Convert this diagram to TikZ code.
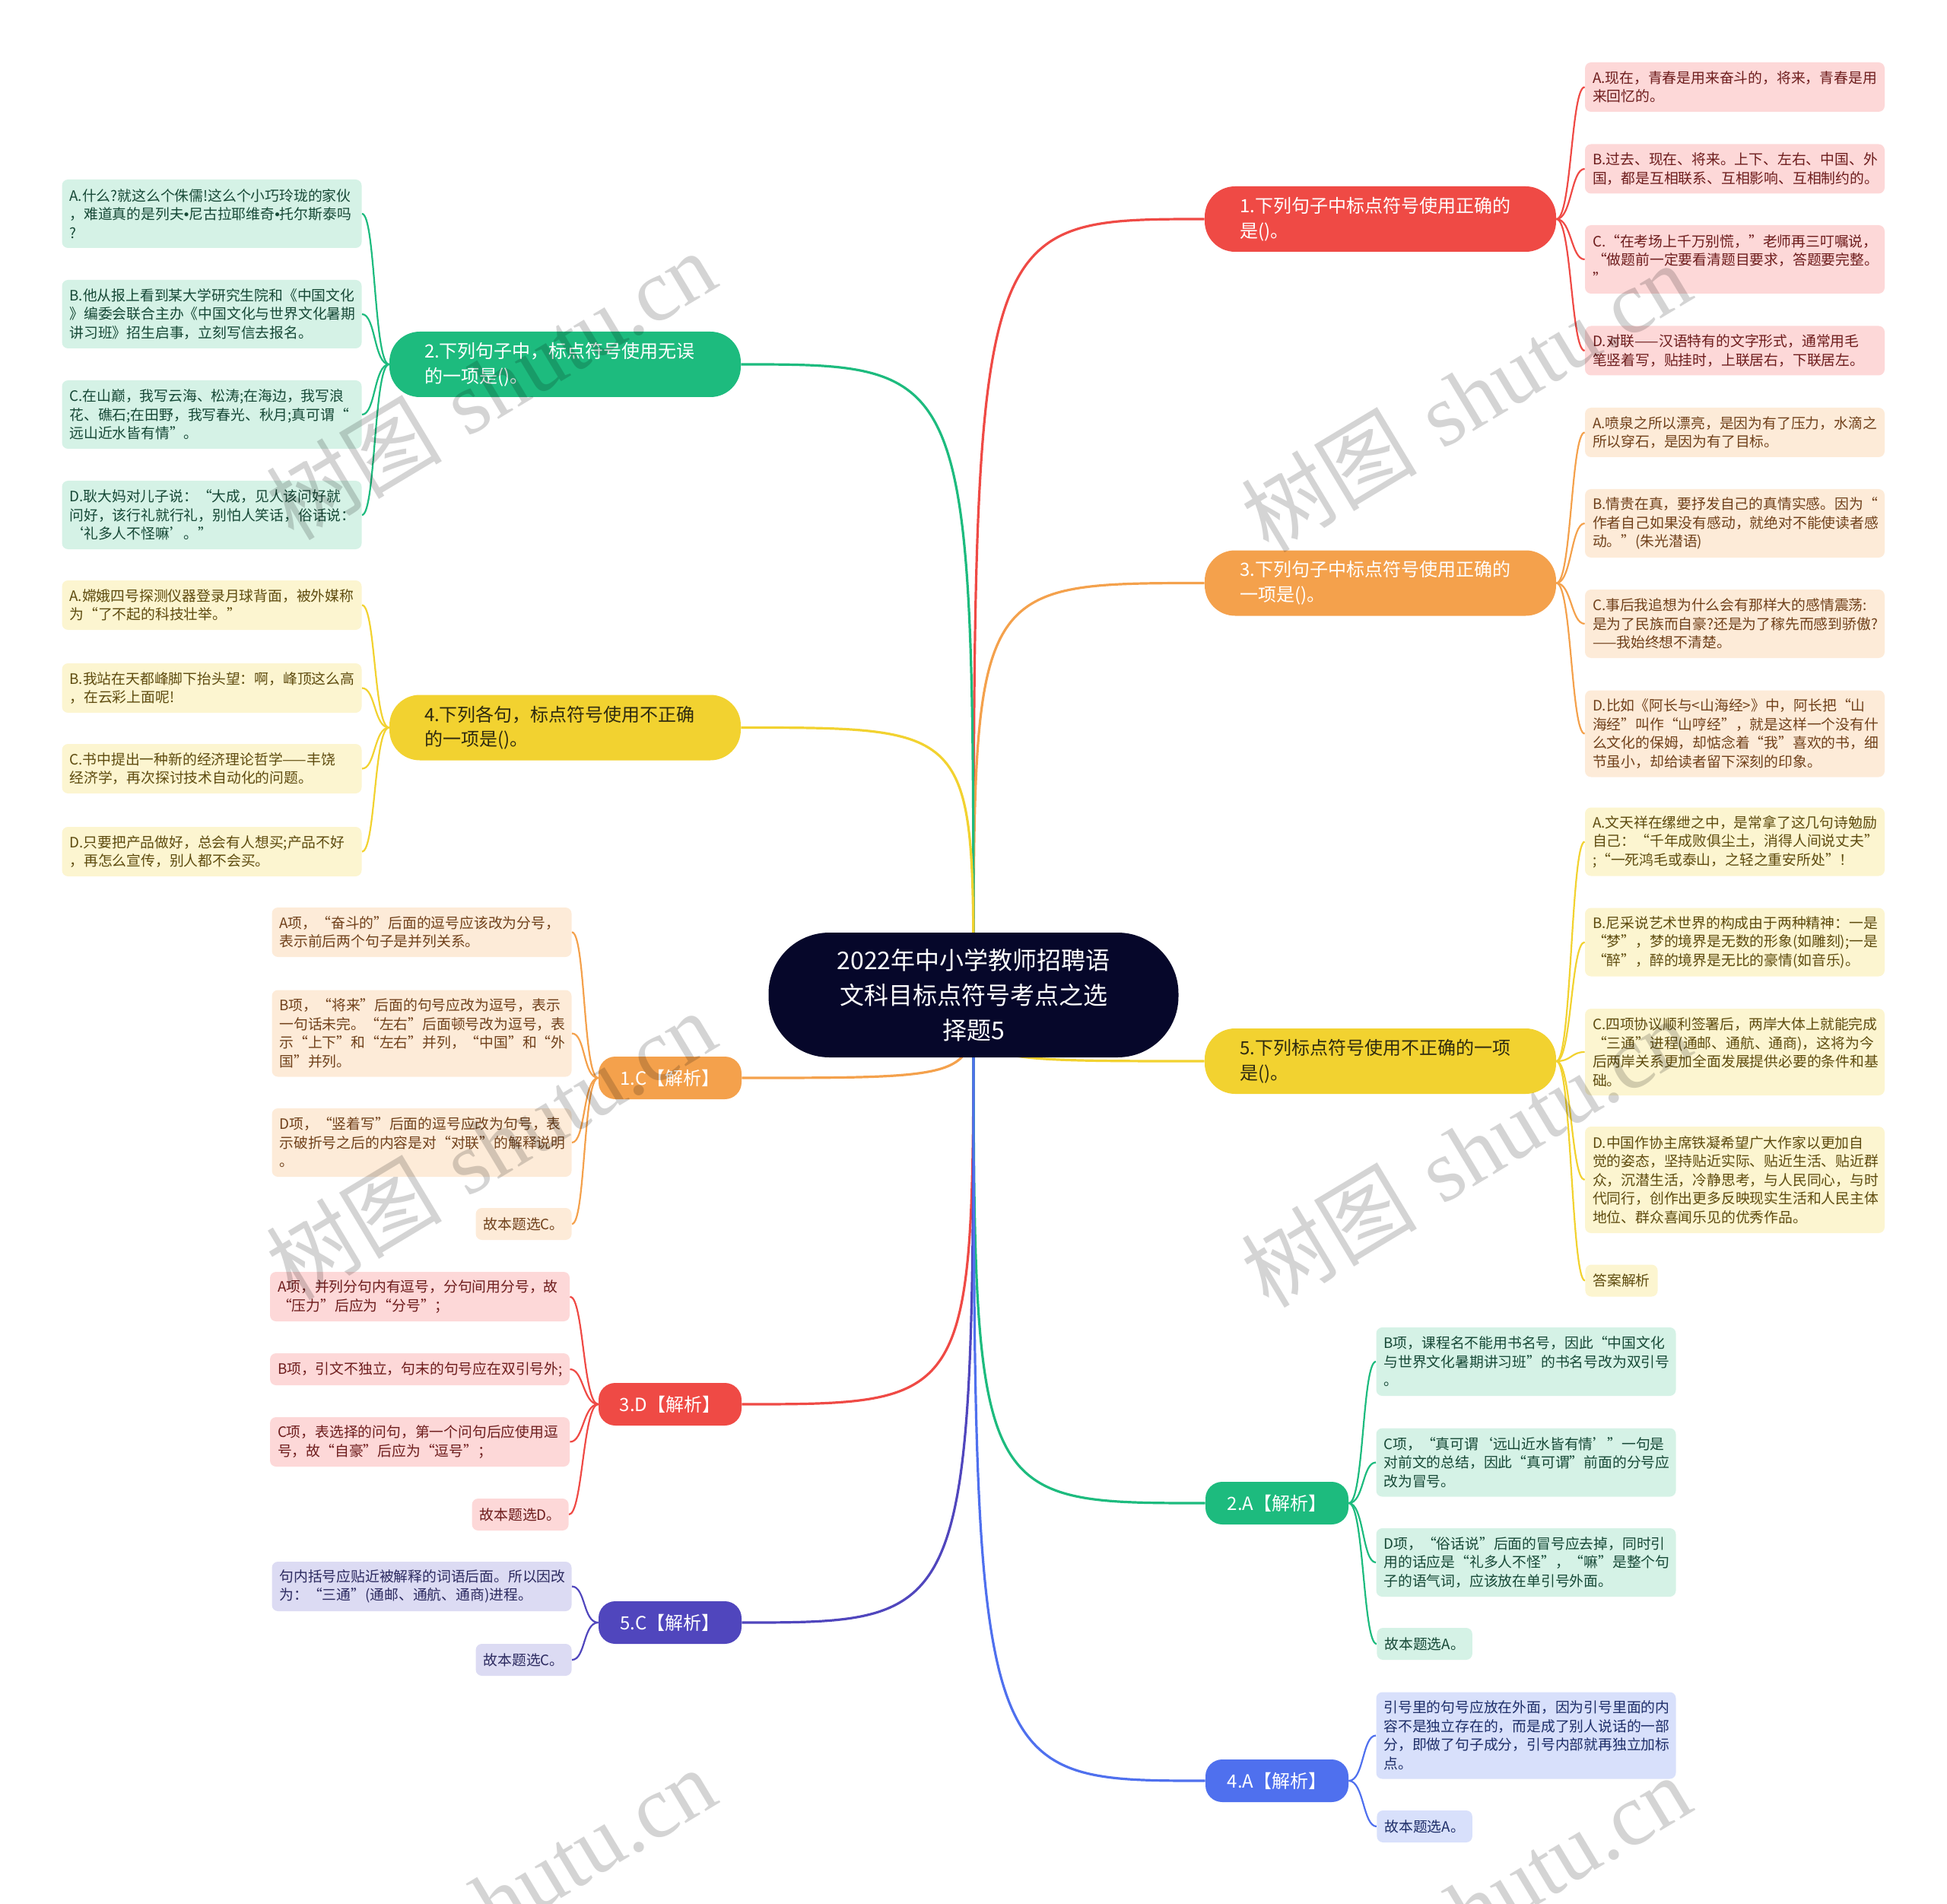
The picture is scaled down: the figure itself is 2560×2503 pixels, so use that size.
\documentclass[tikz,border=0pt]{standalone}
\usepackage{fontspec}
\setmainfont{Noto Sans CJK SC}
\newfontfamily\wmlatin{Liberation Serif}
\newfontfamily\latinsans{Liberation Sans}
\usetikzlibrary{calc}
\pgfdeclarelayer{bg}
\pgfsetlayers{bg,main}
\definecolor{CRed}{HTML}{EF4A45}
\definecolor{COra}{HTML}{F4A14C}
\definecolor{CYel}{HTML}{F2D230}
\definecolor{CGre}{HTML}{1DBB7E}
\definecolor{CBlu}{HTML}{4F70EE}
\definecolor{CPur}{HTML}{5046BD}
\definecolor{CRoot}{HTML}{06072A}
\definecolor{LRed}{HTML}{FDD8D8}\definecolor{TRed}{HTML}{6D1C1C}
\definecolor{LOra}{HTML}{FDEBD8}\definecolor{TOra}{HTML}{70401A}
\definecolor{LYel}{HTML}{FCF5D0}\definecolor{TYel}{HTML}{5E4B0E}
\definecolor{LGre}{HTML}{D5F2E6}\definecolor{TGre}{HTML}{164836}
\definecolor{LPur}{HTML}{DCDBF3}\definecolor{TPur}{HTML}{2C2A60}
\definecolor{LBlu}{HTML}{D8E0FB}\definecolor{TBlu}{HTML}{1D2D68}
\definecolor{TDark}{HTML}{2E2A10}
\tikzset{
  leaf/.style={rounded corners=4pt, text width=187pt, align=left, inner xsep=5pt, inner ysep=2pt,
    font=\fontsize{9.4pt}{12.25pt}\selectfont},
  sleaf/.style={rounded corners=4pt, align=left, inner xsep=5pt, inner ysep=2pt, minimum height=21pt,
    font=\fontsize{9.4pt}{12.25pt}\selectfont},
  ln1/.style={minimum height=21pt},
  ln2/.style={minimum height=32.5pt},
  ln3/.style={minimum height=45pt},
  ln4/.style={minimum height=57pt},
  ln5/.style={minimum height=70pt},
  lred/.style={fill=LRed, text=TRed},
  lora/.style={fill=LOra, text=TOra},
  lyel/.style={fill=LYel, text=TYel},
  lgre/.style={fill=LGre, text=TGre},
  lpur/.style={fill=LPur, text=TPur},
  lblu/.style={fill=LBlu, text=TBlu},
  mnode/.style={rounded corners=20pt, text width=185pt, align=left, inner xsep=23pt, inner ysep=2pt,
    minimum height=43pt, font=\fontsize{12pt}{16.3pt}\selectfont},
  snode/.style={rounded corners=11pt, minimum width=94pt, minimum height=28pt, align=center, inner sep=2pt,
    font=\fontsize{12pt}{16.3pt}\selectfont},
  rootnode/.style={rounded corners=40pt, minimum width=269.5pt, minimum height=82pt, align=center,
    fill=CRoot, text=white, inner sep=2pt, font=\fontsize{16pt}{23pt}\selectfont},
  mline/.style={line width=1.6pt},
  sline/.style={line width=1.1pt},
  wmark/.style={rotate=31, text=black, opacity=0.17, inner sep=0pt, font=\fontsize{58pt}{58pt}\selectfont}
}
\newcommand\myLinkR[3]{\draw[sline,#1] (#2.east) .. controls +(20,0) and +(-18,0) .. (#3.west);}
\newcommand\myLinkL[3]{\draw[sline,#1] (#2.west) .. controls +(-20,0) and +(18,0) .. (#3.east);}
\newcommand\myMain[3]{\draw[mline,#1] (root.center) .. controls (root.center |- #2.#3) .. (#2.#3);}
\newcommand\mybul{{\latinsans •}}
\begin{document}
\begin{tikzpicture}[x=0.5pt,y=-0.5pt]
\useasboundingbox (0,0) rectangle (2560,2503);

% root
\node[rootnode] (root) at (1280,1308) {2022年中小学教师招聘语\\文科目标点符号考点之选\\择题5};

% main branches
\node[mnode, fill=CRed, text=white] (m1) at (1815,288) {1.下列句子中标点符号使用正确的\\是()。};
\node[mnode, fill=COra, text=white] (m3) at (1815,766.5) {3.下列句子中标点符号使用正确的\\一项是()。};
\node[mnode, fill=CYel, text=TDark] (m5) at (1815,1395) {5.下列标点符号使用不正确的一项\\是()。};
\node[mnode, fill=CGre, text=white] (m2) at (743,479) {2.下列句子中，标点符号使用无误\\的一项是()。};
\node[mnode, fill=CYel, text=TDark] (m4) at (743,956.5) {4.下列各句，标点符号使用不正确\\的一项是()。};
\node[snode, fill=COra, text=white] (s1) at (881,1417) {1.C【解析】};
\node[snode, fill=CRed, text=white] (s3) at (881,1846) {3.D【解析】};
\node[snode, fill=CPur, text=white] (s5) at (881,2133) {5.C【解析】};
\node[snode, fill=CGre, text=white] (s2) at (1679,1976) {2.A【解析】};
\node[snode, fill=CBlu, text=white] (s4) at (1679,2341) {4.A【解析】};

% leaves of 1.
\node[leaf,lred,ln2] (r1a) at (2281,114.5) {A.现在，青春是用来奋斗的，将来，青春是用\\来回忆的。};
\node[leaf,lred,ln2] (r1b) at (2281,222) {B.过去、现在、将来。上下、左右、中国、外\\国，都是互相联系、互相影响、互相制约的。};
\node[leaf,lred,ln3] (r1c) at (2281,341) {C.“在考场上千万别慌，”老师再三叮嘱说，\\“做题前一定要看清题目要求，答题要完整。\\”};
\node[leaf,lred,ln2] (r1d) at (2281,461) {D.对联——汉语特有的文字形式，通常用毛\\笔竖着写，贴挂时，上联居右，下联居左。};

% leaves of 3.
\node[leaf,lora,ln2] (r3a) at (2281,568.5) {A.喷泉之所以漂亮，是因为有了压力，水滴之\\所以穿石，是因为有了目标。};
\node[leaf,lora,ln3] (r3b) at (2281,688) {B.情贵在真，要抒发自己的真情实感。因为“\\作者自己如果没有感动，就绝对不能使读者感\\动。”(朱光潜语)};
\node[leaf,lora,ln3] (r3c) at (2281,820) {C.事后我追想为什么会有那样大的感情震荡:\\是为了民族而自豪?还是为了稼先而感到骄傲?\\——我始终想不清楚。};
\node[leaf,lora,ln4] (r3d) at (2281,964.5) {D.比如《阿长与<山海经>》中，阿长把“山\\海经”叫作“山哼经”，就是这样一个没有什\\么文化的保姆，却惦念着“我”喜欢的书，细\\节虽小，却给读者留下深刻的印象。};

% leaves of 5.
\node[leaf,lyel,ln3] (r5a) at (2281,1106.5) {A.文天祥在缧绁之中，是常拿了这几句诗勉励\\自己：“千年成败俱尘土，消得人间说丈夫”\\;“一死鸿毛或泰山，之轻之重安所处”！};
\node[leaf,lyel,ln3] (r5b) at (2281,1238.5) {B.尼采说艺术世界的构成由于两种精神：一是\\“梦”，梦的境界是无数的形象(如雕刻);一是\\“醉”，醉的境界是无比的豪情(如音乐)。};
\node[leaf,lyel,ln4] (r5c) at (2281,1383) {C.四项协议顺利签署后，两岸大体上就能完成\\“三通”进程(通邮、通航、通商)，这将为今\\后两岸关系更加全面发展提供必要的条件和基\\础。};
\node[leaf,lyel,ln5] (r5d) at (2281,1551) {D.中国作协主席铁凝希望广大作家以更加自\\觉的姿态，坚持贴近实际、贴近生活、贴近群\\众，沉潜生活，冷静思考，与人民同心，与时\\代同行，创作出更多反映现实生活和人民主体\\地位、群众喜闻乐见的优秀作品。};
\node[sleaf,lyel,anchor=west] (r5e) at (2084,1683.5) {答案解析};

% leaves of 2.
\node[leaf,lgre,ln3] (l2a) at (278.5,281) {A.什么?就这么个侏儒!这么个小巧玲珑的家伙\\，难道真的是列夫\mybul 尼古拉耶维奇\mybul 托尔斯泰吗\\?};
\node[leaf,lgre,ln3] (l2b) at (278.5,413) {B.他从报上看到某大学研究生院和《中国文化\\》编委会联合主办《中国文化与世界文化暑期\\讲习班》招生启事，立刻写信去报名。};
\node[leaf,lgre,ln3] (l2c) at (278.5,545) {C.在山巅，我写云海、松涛;在海边，我写浪\\花、礁石;在田野，我写春光、秋月;真可谓“\\远山近水皆有情”。};
\node[leaf,lgre,ln3] (l2d) at (278.5,677) {D.耿大妈对儿子说：“大成，见人该问好就\\问好，该行礼就行礼，别怕人笑话，俗话说：\\‘礼多人不怪嘛’。”};

% leaves of 4.
\node[leaf,lyel,ln2] (l4a) at (278.5,795.5) {A.嫦娥四号探测仪器登录月球背面，被外媒称\\为“了不起的科技壮举。”};
\node[leaf,lyel,ln2] (l4b) at (278.5,904.5) {B.我站在天都峰脚下抬头望：啊，峰顶这么高\\，在云彩上面呢!};
\node[leaf,lyel,ln2] (l4c) at (278.5,1010.5) {C.书中提出一种新的经济理论哲学——丰饶\\经济学，再次探讨技术自动化的问题。};
\node[leaf,lyel,ln2] (l4d) at (278.5,1119.5) {D.只要把产品做好，总会有人想买;产品不好\\，再怎么宣传，别人都不会买。};

% leaves of 1.C
\node[leaf,lora,ln2] (c1a) at (554.5,1225.5) {A项，“奋斗的”后面的逗号应该改为分号，\\表示前后两个句子是并列关系。};
\node[leaf,lora,ln4] (c1b) at (554.5,1358.5) {B项，“将来”后面的句号应改为逗号，表示\\一句话未完。“左右”后面顿号改为逗号，表\\示“上下”和“左右”并列，“中国”和“外\\国”并列。};
\node[leaf,lora,ln3] (c1d) at (554.5,1502) {D项，“竖着写”后面的逗号应改为句号，表\\示破折号之后的内容是对“对联”的解释说明\\。};
\node[sleaf,lora,anchor=east] (c1e) at (752,1609) {故本题选C。};

% leaves of 3.D
\node[leaf,lred,ln2] (d3a) at (552,1704.5) {A项，并列分句内有逗号，分句间用分号，故\\“压力”后应为“分号”；};
\node[leaf,lred,ln1] (d3b) at (552,1800) {B项，引文不独立，句末的句号应在双引号外;};
\node[leaf,lred,ln2] (d3c) at (552,1895.5) {C项，表选择的问句，第一个问句后应使用逗\\号，故“自豪”后应为“逗号”；};
\node[sleaf,lred,anchor=east] (d3e) at (748,1991) {故本题选D。};

% leaves of 5.C
\node[leaf,lpur,ln2] (e5a) at (554.5,2085.5) {句内括号应贴近被解释的词语后面。所以因改\\为：“三通”(通邮、通航、通商)进程。};
\node[sleaf,lpur,anchor=east] (e5e) at (752,2182) {故本题选C。};

% leaves of 2.A
\node[leaf,lgre,ln3] (a2b) at (2006.5,1790) {B项，课程名不能用书名号，因此“中国文化\\与世界文化暑期讲习班”的书名号改为双引号\\。};
\node[leaf,lgre,ln3] (a2c) at (2006.5,1922.5) {C项，“真可谓‘远山近水皆有情’”一句是\\对前文的总结，因此“真可谓”前面的分号应\\改为冒号。};
\node[leaf,lgre,ln3] (a2d) at (2006.5,2054) {D项，“俗话说”后面的冒号应去掉，同时引\\用的话应是“礼多人不怪”，“嘛”是整个句\\子的语气词，应该放在单引号外面。};
\node[sleaf,lgre,anchor=west] (a2e) at (1810,2161) {故本题选A。};

% leaves of 4.A
\node[leaf,lblu,ln4] (b4a) at (2006.5,2281.5) {引号里的句号应放在外面，因为引号里面的内\\容不是独立存在的，而是成了别人说话的一部\\分，即做了句子成分，引号内部就再独立加标\\点。};
\node[sleaf,lblu,anchor=west] (b4e) at (1810,2401) {故本题选A。};

\begin{pgfonlayer}{bg}
  \myMain{CRed}{m1}{west}
  \myMain{COra}{m3}{west}
  \myMain{CYel}{m5}{west}
  \myMain{CGre}{m2}{east}
  \myMain{CYel}{m4}{east}
  \myMain{COra}{s1}{east}
  \myMain{CRed}{s3}{east}
  \myMain{CPur}{s5}{east}
  \myMain{CGre}{s2}{west}
  \myMain{CBlu}{s4}{west}
  \myLinkR{CRed}{m1}{r1a}\myLinkR{CRed}{m1}{r1b}\myLinkR{CRed}{m1}{r1c}\myLinkR{CRed}{m1}{r1d}
  \myLinkR{COra}{m3}{r3a}\myLinkR{COra}{m3}{r3b}\myLinkR{COra}{m3}{r3c}\myLinkR{COra}{m3}{r3d}
  \myLinkR{CYel}{m5}{r5a}\myLinkR{CYel}{m5}{r5b}\myLinkR{CYel}{m5}{r5c}\myLinkR{CYel}{m5}{r5d}\myLinkR{CYel}{m5}{r5e}
  \myLinkL{CGre}{m2}{l2a}\myLinkL{CGre}{m2}{l2b}\myLinkL{CGre}{m2}{l2c}\myLinkL{CGre}{m2}{l2d}
  \myLinkL{CYel}{m4}{l4a}\myLinkL{CYel}{m4}{l4b}\myLinkL{CYel}{m4}{l4c}\myLinkL{CYel}{m4}{l4d}
  \myLinkL{COra}{s1}{c1a}\myLinkL{COra}{s1}{c1b}\myLinkL{COra}{s1}{c1d}\myLinkL{COra}{s1}{c1e}
  \myLinkL{CRed}{s3}{d3a}\myLinkL{CRed}{s3}{d3b}\myLinkL{CRed}{s3}{d3c}\myLinkL{CRed}{s3}{d3e}
  \myLinkL{CPur}{s5}{e5a}\myLinkL{CPur}{s5}{e5e}
  \myLinkR{CGre}{s2}{a2b}\myLinkR{CGre}{s2}{a2c}\myLinkR{CGre}{s2}{a2d}\myLinkR{CGre}{s2}{a2e}
  \myLinkR{CBlu}{s4}{b4a}\myLinkR{CBlu}{s4}{b4e}
\end{pgfonlayer}

% watermarks
\begin{scope}
\clip (0,0) rectangle (2560,2503);
\node[wmark] (wm1) at (645,506) {树图\hspace{0.3em}{\wmlatin shutu.cn}};
\node[wmark] (wm2) at (1927,522) {树图\hspace{0.3em}{\wmlatin shutu.cn}};
\node[wmark] (wm3) at (645,1505) {树图\hspace{0.3em}{\wmlatin shutu.cn}};
\node[wmark] (wm4) at (1927,1515) {树图\hspace{0.3em}{\wmlatin shutu.cn}};
\node[wmark] (wm5) at (645,2500) {树图\hspace{0.3em}{\wmlatin shutu.cn}};
\node[wmark] (wm6) at (1927,2510) {树图\hspace{0.3em}{\wmlatin shutu.cn}};
\end{scope}
\end{tikzpicture}
\end{document}
